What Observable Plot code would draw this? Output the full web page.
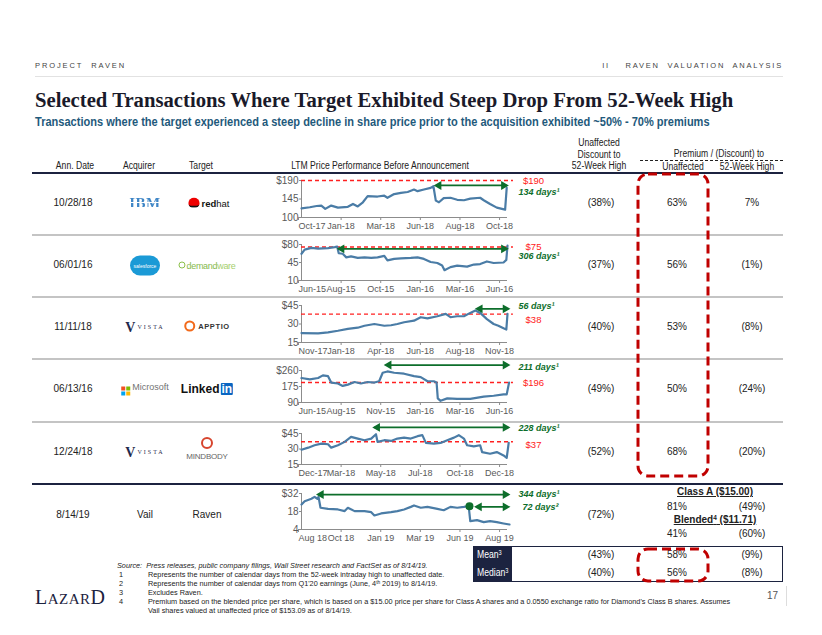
<!DOCTYPE html>
<html><head><meta charset="utf-8">
<script src="https://cdn.jsdelivr.net/npm/d3@7"></script>
<script src="https://cdn.jsdelivr.net/npm/@observablehq/plot@0.6"></script>
<style>
body{margin:0;background:#fff;}
#page{position:relative;width:822px;height:635px;overflow:hidden;font-family:Arial,"Liberation Sans",sans-serif;color:#222;background:#fff;}
.a{position:absolute;white-space:nowrap;line-height:1;}
.sp{position:absolute;}
sup{font-size:65%;vertical-align:0;position:relative;top:-0.45em;}
</style></head><body><div id="page"></div>
<script>
// ---------------- DATA ----------------
const annDates = ["10/28/18","06/01/16","11/11/18","06/13/16","12/24/18","8/14/19"];
const acquirers = ["IBM","salesforce","VISTA","Microsoft","VISTA","Vail"];
const targets = ["redhat","demandware","APPTIO","LinkedIn","MINDBODY","Raven"];
const discountTo52High = ["(38%)","(37%)","(40%)","(49%)","(52%)","(72%)"];
const premiumUnaffected = ["63%","56%","53%","50%","68%"];
const premium52High = ["7%","(1%)","(8%)","(24%)","(20%)"];
const ravenClassA = ["81%","(49%)"];
const ravenBlended = ["41%","(60%)"];
const meanRow = ["(43%)","58%","(9%)"];
const medianRow = ["(40%)","56%","(8%)"];

// sparkline series: [week index, share price]
const rhtPrice = [[0,122],[2.1,125],[3.8,128],[5,129],[6,121],[7.5,129],[9.2,124],[11.7,126],[13,133],[14.2,127],[15.5,137],[16.7,152],[19.2,151],[20.9,153],[21.7,148],[23.4,157],[25.1,160],[26.8,162],[28.4,168],[29.3,164],[30.9,168],[32.6,172],[33.3,176],[33.9,141],[34.7,137],[35.9,147],[37.6,148],[39.3,143],[41,142],[42.6,146],[45.1,148],[46,142],[47.6,133],[49.3,124],[50.6,121],[51.4,119],[51.8,172]];
const dwrePrice = [[0,62],[0.8,70],[2.5,73.5],[4.2,72],[6.7,73],[8.4,75],[9,76],[9.4,63],[10.4,62],[11.3,55],[12.5,57],[14.2,54],[15.9,55],[17.6,54],[19.2,55],[20.9,58],[21.7,49],[23.4,52],[25.1,53],[27.6,54],[29.3,55],[30.9,52],[32.6,46],[34.3,44],[35.5,39],[36.1,30],[37.6,36],[39.3,39],[41.8,37],[43.5,41],[45.1,42],[46.8,47],[48.5,44],[51,45],[51.7,50],[52,78]];
const aptiPrice = [[0,22.6],[4.2,22.4],[6.7,23.2],[9.2,24.5],[11.7,26],[14.2,27],[15.9,28.6],[18.4,30],[20.9,28.6],[22.6,29],[24.2,30],[25.9,31.4],[28.4,32.7],[30.1,35.5],[31.8,34.6],[34.3,36.3],[36.4,38.2],[37.6,35.5],[39.3,36.3],[41,36.3],[42.6,39],[43.9,41],[45.1,39],[46.8,34],[48.5,30],[49.7,28.6],[51,26.5],[51.7,25.5],[52,38.2]];
const lnkdPrice = [[0,220],[2.1,213],[4.2,220],[5.4,234],[6.7,230],[7.5,196],[9.2,191],[10.4,178],[11.7,185],[13.4,199],[15,191],[16.7,199],[18.4,196],[19.6,203],[20.5,248],[21.7,255],[23.4,248],[25.9,243],[28.4,230],[30.1,225],[31.8,203],[33.4,203],[34.1,196],[34.4,112],[35.1,99],[36.8,112],[39.3,109],[42.6,109],[46,121],[48.5,126],[51,133],[51.8,133],[52.4,196]];
const mbPrice = [[0,29.3],[1.7,31.3],[3.3,33.6],[5,35.2],[6.7,34.6],[7.5,31.3],[9.2,33.6],[10.9,36.9],[12.5,41.7],[14.2,40.1],[15.9,38.5],[17.6,40.1],[18.8,44.3],[19.2,36.9],[20.9,38.5],[22.6,37.8],[24.2,40.1],[25.9,41],[27.6,40.1],[29.3,42.4],[30.5,43.4],[31.4,35.9],[33.4,35.2],[35.1,35.9],[36.8,38.5],[38.5,41],[39.7,43.4],[41,40.1],[41.8,33.6],[43.5,32.6],[45.1,33.6],[45.6,27],[47.6,25.4],[49.3,27],[51,23.8],[51.8,21.5],[52.3,35.9]];
const ravenPrice = [[0,23.4],[0.8,26],[2.5,27.9],[3.3,29.4],[4,27.9],[4.3,29.4],[4.8,20.9],[6.7,20],[9.2,19.6],[10.9,18.3],[11.7,20.9],[13.4,18.3],[15.9,18.3],[17.6,17.5],[18.4,14.9],[20.1,16.5],[22.6,17.5],[24.2,18.3],[25.9,19.6],[27.6,21.6],[28.4,22.7],[30.1,20.9],[31.8,21.6],[34.3,20],[35.9,19],[37.6,21.6],[39.3,20.9],[41,21.6],[42.2,22.2],[42.6,10.5],[44.3,11.3],[46,9.7],[47.6,10.5],[49.3,9.7],[51,8.7],[52.5,7.9]];

const xTickWeeks = [0,10,20,30,40,50];
const xLabelsRHT = ["Oct-17","Jan-18","Mar-18","Jun-18","Aug-18","Oct-18"];
const xLabelsDWRE = ["Jun-15","Aug-15","Oct-15","Jan-16","Mar-16","Jun-16"];
const xLabelsAPTI = ["Nov-17","Jan-18","Apr-18","Jun-18","Aug-18","Nov-18"];
const xLabelsLNKD = ["Jun-15","Aug-15","Nov-15","Jan-16","Mar-16","Jun-16"];
const xLabelsMB = ["Dec-17","Mar-18","May-18","Jul-18","Oct-18","Dec-18"];
const xLabelsRAVEN = ["Aug 18","Oct 18","Jan 19","Mar 19","Jun 19","Aug 19"];

const yTicksRHT = [100,145,190];
const yTicksDWRE = [10,45,80];
const yTicksAPTI = [15,30,45];
const yTicksLNKD = [90,175,260];
const yTicksMB = [15,30,45];
const yTicksRAVEN = [4,18,32];

const highRHT = 190, highDWRE = 75, highAPTI = 38, highLNKD = 196, highMB = 37;
// [from week, to week, price level, label]
const arrowsRHT = [[33.9,51.8,178,"134 days¹"]];
const arrowsDWRE = [[9.4,51.8,71.6,"306 days¹"]];
const arrowsAPTI = [[44.3,52.2,42.3,"56 days¹"]];
const arrowsLNKD = [[21.3,52.2,289,"211 days¹"]];
const arrowsMB = [[18.4,52.2,50.9,"228 days¹"]];
const arrowsRAVEN = [[4.2,52.2,31.2,"344 days¹"],[44.1,52.2,21.6,"72 days²"]];
const ravenQ1Point = [[42.4,22]];

// ---------------- LAYOUT ----------------
const page = document.getElementById("page");
function T(html, x, y, style = "", align = "c", sx = 1) {
  const d = document.createElement("div");
  d.className = "a";
  d.innerHTML = html;
  const tx = align === "c" ? "-50%" : align === "r" ? "-100%" : "0";
  const ox = align === "c" ? "center" : align === "r" ? "right" : "left";
  d.style.cssText = `left:${x}px;top:${y}px;transform-origin:${ox} center;transform:translate(${tx},-50%) scaleX(${sx});` + style;
  page.appendChild(d);
  return d;
}
function R(x, y, w, h, style) {
  const d = document.createElement("div");
  d.className = "a";
  d.style.cssText = `left:${x}px;top:${y}px;width:${w}px;height:${h}px;` + style;
  page.appendChild(d);
  return d;
}
const NX = 0.86; // condensed look (Arial Narrow substitute)

// header
T("PROJECT&nbsp; RAVEN", 35, 66, "font-size:7.5px;color:#444;letter-spacing:1.9px;", "l");
T("II&nbsp;&nbsp;&nbsp; RAVEN&nbsp; VALUATION&nbsp; ANALYSIS", 783, 66, "font-size:7.5px;color:#444;letter-spacing:1.8px;", "r");
R(35, 76, 748, 1, "background:#e2e2e2;");
T("Selected Transactions Where Target Exhibited Steep Drop From 52-Week High", 35, 100, "font-family:'Liberation Serif',serif;font-weight:bold;font-size:20.7px;color:#1a1a2a;", "l");
T("Transactions where the target experienced a steep decline in share price prior to the acquisition exhibited ~50% - 70% premiums", 35, 122, "font-weight:bold;font-size:12px;color:#1f5a7c;", "l", 0.92);

// column headers
const hs = "font-size:10px;color:#222;";
T("Ann. Date", 75, 166, hs, "c", NX);
T("Acquirer", 139, 166, hs, "c", NX);
T("Target", 201, 166, hs, "c", NX);
T("LTM Price Performance Before Announcement", 380, 166, hs, "c", NX);
T("Unaffected", 599, 143, hs, "c", NX);
T("Discount to", 599, 155, hs, "c", NX);
T("52-Week High", 599, 166, hs, "c", NX);
T("Premium / (Discount) to", 719, 154, hs, "c", NX);
R(640, 159.5, 143, 0, "border-top:1.2px dashed #222;");
T("Unaffected", 683, 167, hs, "c", NX);
T("52-Week High", 747, 167, hs, "c", NX);
R(32, 172, 751, 1.5, "background:#1c2340;");

// row separators
const rowY = [203, 265, 327, 389, 452, 515];
[234, 296, 358, 421].forEach(y => R(32, y, 751, 1.5, "background:#c4c4c4;"));
R(32, 483, 751, 2, "background:#1c2340;");

// dates and values
const cs = "font-size:10px;color:#222;";
annDates.forEach((d, i) => T(d, 73, rowY[i], cs));
discountTo52High.forEach((d, i) => T(d, 601, rowY[i], cs));
premiumUnaffected.forEach((d, i) => T(d, 677, rowY[i], cs));
premium52High.forEach((d, i) => T(d, 752, rowY[i], cs));

// Raven row
T(acquirers[5], 145, 515, cs);
T(targets[5], 207, 515, cs);
T("<u>Class A ($15.00)</u>", 715, 492, "font-size:10px;font-weight:bold;color:#222;");
T(ravenClassA[0], 677, 507, cs); T(ravenClassA[1], 752, 507, cs);
T("<u>Blended<sup>4</sup> ($11.71)</u>", 715, 520, "font-size:10px;font-weight:bold;color:#222;");
T(ravenBlended[0], 677, 534, cs); T(ravenBlended[1], 752, 534, cs);

// logos (text-based)
T(acquirers[0], 145, 203, "font-family:'Liberation Serif',serif;font-weight:bold;font-size:15px;letter-spacing:0.5px;background:repeating-linear-gradient(#3f86c6 0 1.7px, rgba(255,255,255,0) 1.7px 2.5px);-webkit-background-clip:text;background-clip:text;color:transparent;");
T("<span style='display:inline-block;width:11px;height:8px;border-radius:50% 50% 40% 40%;background:#e00;border-bottom:2px solid #111;vertical-align:-1px;margin-right:2px'></span><b>red</b>hat", 209, 203, "font-size:9.5px;color:#111;");
T("<span style='display:inline-block;width:30px;height:20px;line-height:20px;border-radius:10px;background:#1b9ad6;color:#fff;font-size:5px;text-align:center'>" + acquirers[1] + "</span>", 145, 265, "");
T("<span style='display:inline-block;width:5px;height:5px;border:1px solid #8cc04b;border-radius:50%;vertical-align:0;margin-right:1px'></span>demand<span style='color:#a6cf6d'>ware</span>", 207, 266, "font-size:9px;color:#86b94d;letter-spacing:-0.3px;");
function vista(y) {
  T("<span style='font-family:Liberation Serif,serif;font-weight:bold;font-size:14px;color:#1f2a4d'>V</span><span style='font-family:Liberation Serif,serif;font-size:6px;letter-spacing:2px;color:#1f2a4d;vertical-align:3px;margin-left:2px'>" + "VISTA" + "</span>", 145, y, "");
}
vista(327); vista(452);
T("<span style='display:inline-block;width:7px;height:7px;border:2.5px solid #f26a1b;border-radius:50%;vertical-align:-3px;margin-right:3px'></span><b>" + targets[2] + "</b>", 207, 326, "font-size:7.5px;color:#333;letter-spacing:0.6px;");
T("<span style='display:inline-grid;grid-template-columns:4px 4px;gap:1px;vertical-align:-1px;margin-right:2px'><i style='width:4px;height:4px;background:#f25022'></i><i style='width:4px;height:4px;background:#7fba00'></i><i style='width:4px;height:4px;background:#00a4ef'></i><i style='width:4px;height:4px;background:#ffb900'></i></span>" + acquirers[3], 145, 389, "font-size:9px;color:#737373;");
T("<b>Linked</b><span style='display:inline-block;background:#0a66c2;color:#fff;font-weight:bold;padding:0 1px;border-radius:1px;margin-left:1px'>in</span>", 207, 389, "font-size:12px;color:#111;");
T("<span style='display:inline-block;width:8px;height:8px;border:2.5px solid #d7452e;border-radius:50%'></span>", 207, 444, "");
T(targets[4], 207, 457, "font-size:8px;color:#666;letter-spacing:-0.2px;");

// Mean / median box
R(473, 546, 310, 36, "border:1.5px solid #1c2340;box-sizing:border-box;");
R(473, 546, 39, 36, "background:#1c2340;");
T("Mean<sup>3</sup>", 477, 555, "font-size:10px;color:#fff;", "l", NX);
T("Median<sup>3</sup>", 477, 573, "font-size:10px;color:#fff;", "l", NX);
meanRow.forEach((d, i) => T(d, [601, 677, 752][i], 555, cs));
medianRow.forEach((d, i) => T(d, [601, 677, 752][i], 573, cs));

// footnotes
const fs = "font-size:7.3px;color:#222;";
T("<i>Source:&nbsp; Press releases, public company filings, Wall Street research and FactSet as of 8/14/19.</i>", 117, 566, fs, "l");
const notes = [
  ["1", "Represents the number of calendar days from the 52-week intraday high to unaffected date."],
  ["2", "Represents the number of calendar days from Q1'20 earnings (June, 4<sup>th</sup> 2019) to 8/14/19."],
  ["3", "Excludes Raven."],
  ["4", "Premium based on the blended price per share, which is based on a $15.00 price per share for Class A shares and a 0.0550 exchange ratio for Diamond's Class B shares. Assumes"],
  ["", "Vail shares valued at unaffected price of $153.09 as of 8/14/19."]
];
notes.forEach((n, i) => { T(n[0], 119, 575 + i * 9, fs, "l"); T(n[1], 148, 575 + i * 9, fs, "l"); });
T("L<span style='font-size:15px'>AZAR</span>D", 35, 597, "font-family:'Liberation Serif',serif;font-size:20px;color:#1c2340;letter-spacing:0.5px;", "l");
T("17", 778, 596, "font-size:10px;color:#555;", "r");
R(786, 586, 1, 20, "background:#ddd;");

// ---------------- SPARKLINES (Observable Plot) ----------------
const green = "#0d6e2b", red = "#ff2020", lineBlue = "#4a7ca6", axisGray = "#8c8c8c";
const charts = [
  {data: rhtPrice, yT: yTicksRHT, xL: xLabelsRHT, high: highRHT, arrows: arrowsRHT, top: 180, h: 37, hiDy: 0, dayDy: [7], dayDx: [11]},
  {data: dwrePrice, yT: yTicksDWRE, xL: xLabelsDWRE, high: highDWRE, arrows: arrowsDWRE, top: 244, h: 36, hiDy: 0, dayDy: [7], dayDx: [11]},
  {data: aptiPrice, yT: yTicksAPTI, xL: xLabelsAPTI, high: highAPTI, arrows: arrowsAPTI, top: 305, h: 37, hiDy: 6, dayDy: [-3], dayDx: [11]},
  {data: lnkdPrice, yT: yTicksLNKD, xL: xLabelsLNKD, high: highLNKD, arrows: arrowsLNKD, top: 370, h: 32, hiDy: 0, dayDy: [2], dayDx: [11]},
  {data: mbPrice, yT: yTicksMB, xL: xLabelsMB, high: highMB, arrows: arrowsMB, top: 433, h: 31, hiDy: 3, dayDy: [1], dayDx: [11]},
  {data: ravenPrice, yT: yTicksRAVEN, xL: xLabelsRAVEN, high: null, arrows: arrowsRAVEN, top: 493, h: 36, hiDy: 0, dayDy: [0, 0], dayDx: [11, 15], dot: ravenQ1Point}
];

charts.forEach(c => {
  const mt = 12, mb = 20;
  const heads = [];
  c.arrows.forEach(a => { heads.push({x: a[0], y: a[2], rot: -90, dx: 3}); heads.push({x: a[1], y: a[2], rot: 90, dx: -3}); });
  const marks = [
    Plot.ruleY([c.yT[0]], {stroke: axisGray, strokeWidth: 1}),
    Plot.ruleX([0], {stroke: axisGray, strokeWidth: 1}),
    Plot.axisY(c.yT, {label: null, tickFormat: d => d === c.yT[2] ? "$" + d : String(d), tickSize: 2, tickPadding: 1, stroke: axisGray, fill: "#595959", fontSize: 10}),
    Plot.axisX(xTickWeeks.slice(1), {label: null, tickFormat: d => c.xL[xTickWeeks.indexOf(d)], tickSize: 3, tickPadding: 2, stroke: axisGray, fill: "#595959", fontSize: 9}),
    Plot.axisX(xTickWeeks.slice(0, 1), {label: null, tickFormat: d => c.xL[0], tickSize: 3, tickPadding: 2, stroke: axisGray, fill: "#595959", fontSize: 9, textAnchor: "start", dx: -3}),
  ];
  if (c.high != null) {
    marks.push(Plot.ruleY([c.high], {x1: 0, x2: 53.5, stroke: red, strokeWidth: 1.4, strokeDasharray: "4,3"}));
    marks.push(Plot.text([c.high], {y: d => d, frameAnchor: "right", textAnchor: "middle", dx: 26, dy: c.hiDy, text: d => "$" + d, fill: red, fontSize: 9.5}));
  }
  marks.push(Plot.line(c.data, {x: d => d[0], y: d => d[1], stroke: lineBlue, strokeWidth: 2.2, strokeLinejoin: "round"}));
  marks.push(Plot.link(c.arrows, {x1: d => d[0], x2: d => d[1], y1: d => d[2], y2: d => d[2], stroke: green, strokeWidth: 1.8}));
  heads.forEach(hd => marks.push(Plot.dot([hd], {x: "x", y: "y", symbol: "triangle", rotate: hd.rot, r: 3.3, fill: green, dx: hd.dx})));
  c.arrows.forEach((a, i) => marks.push(Plot.text([a], {y: d => d[2], frameAnchor: "right", dx: c.dayDx[i], dy: c.dayDy[i], text: d => d[3], textAnchor: "start", fill: green, fontSize: 9, fontWeight: "bold", fontStyle: "italic"})));
  if (c.dot) marks.push(Plot.dot(c.dot, {x: d => d[0], y: d => d[1], r: 4, fill: green}));

  const svg = Plot.plot({
    width: 310, height: mt + c.h + mb,
    marginLeft: 51, marginRight: 53, marginTop: mt, marginBottom: mb,
    style: {fontFamily: "Arial, 'Liberation Sans', sans-serif", fontSize: "10px", color: "#595959", background: "transparent", overflow: "visible"},
    x: {domain: [0, 52], axis: null},
    y: {domain: [c.yT[0], c.yT[2]], axis: null},
    marks
  });
  svg.classList.add("sp");
  svg.style.left = "250px";
  svg.style.top = (c.top - mt) + "px";
  page.appendChild(svg);
});

// red dashed highlight boxes
const ns = "http://www.w3.org/2000/svg";
const ov = document.createElementNS(ns, "svg");
ov.setAttribute("width", 822); ov.setAttribute("height", 635);
ov.style.cssText = "position:absolute;left:0;top:0;pointer-events:none;";
[[638, 174, 70, 302], [638, 549, 70, 32]].forEach(b => {
  const r = document.createElementNS(ns, "rect");
  r.setAttribute("x", b[0]); r.setAttribute("y", b[1]); r.setAttribute("width", b[2]); r.setAttribute("height", b[3]);
  r.setAttribute("rx", 10); r.setAttribute("fill", "none"); r.setAttribute("stroke", "#c00000");
  r.setAttribute("stroke-width", 3); r.setAttribute("stroke-dasharray", "9,5");
  ov.appendChild(r);
});
page.appendChild(ov);
</script></body></html>
